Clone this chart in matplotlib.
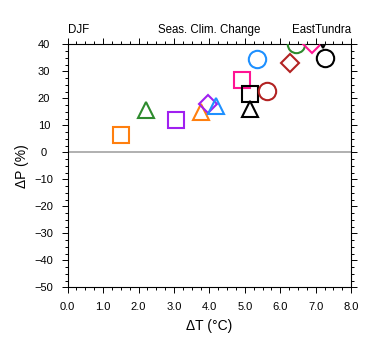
import numpy as np
import matplotlib
matplotlib.use('Agg')
import matplotlib.pyplot as plt
from matplotlib.ticker import MultipleLocator

plt.rcParams['font.family'] = ['Liberation Sans', 'DejaVu Sans']

# seasonal change per simulation: model (colour) and experiment (shape)
model = ['orange', 'orange', 'green', 'green', 'purple', 'purple',
         'blue', 'blue', 'pink', 'pink', 'black', 'black', 'black', 'black',
         'red', 'red']
expt = ['sq', 'tri', 'tri', 'circ', 'sq', 'dia',
        'tri', 'circ', 'sq', 'dia', 'sq', 'tri', 'circ', 'itri',
        'circ', 'dia']
dT = [1.51, 3.76, 2.21, 6.45, 3.06, 3.96,
      4.18, 5.33, 4.93, 6.89, 5.16, 5.14, 7.25, 7.21,
      5.62, 6.28]
dP = [6.6, 15.1, 15.8, 40.3, 12.1, 18.0,
      17.0, 34.5, 26.9, 40.2, 21.6, 16.1, 34.8, 41.5,
      22.8, 33.2]

colours = {'orange': '#ff7f0e', 'green': '#2e8b2e', 'purple': '#a020f0',
           'blue': '#1e90ff', 'pink': '#ff1493', 'black': 'black',
           'red': '#b22222'}
shapes = {'sq': ('s', 12), 'tri': ('^', 12), 'circ': ('o', 12.5),
          'dia': ('D', 9), 'itri': ('v', 12)}

fig = plt.figure(figsize=(3.8, 3.55), dpi=100)
ax = fig.add_axes([0.178, 0.1907, 0.746, 0.6843])

ax.axhline(0, color='#aaaaaa', lw=1.3, zorder=1)

for m, e, x, y in zip(model, expt, dT, dP):
    mk, ms = shapes[e]
    ax.plot(x, y, linestyle='none', marker=mk, ms=ms, mfc='none',
            mec=colours[m], mew=1.5, zorder=3)

ax.set_xlim(0, 8)
ax.set_ylim(-50, 40)
ax.xaxis.set_major_locator(MultipleLocator(1))
ax.xaxis.set_minor_locator(MultipleLocator(0.25))
ax.yaxis.set_major_locator(MultipleLocator(10))
ax.yaxis.set_minor_locator(MultipleLocator(2.5))
ax.set_xticklabels(['%.1f' % v for v in ax.get_xticks()])
ax.tick_params(which='both', direction='out', top=True, right=True,
               labeltop=False, labelright=False, labelsize=8, width=0.7)
ax.tick_params(axis='x', which='major', length=4.5, pad=6)
ax.tick_params(axis='y', which='major', length=4.5, pad=12.5)
ax.tick_params(which='minor', length=2.5)
for tl in ax.get_yticklabels():
    tl.set_horizontalalignment('center')
for sp in ax.spines.values():
    sp.set_linewidth(0.8)

ax.set_xlabel('\u0394T (\u00b0C)', fontsize=10, labelpad=5)
ax.set_ylabel('\u0394P (%)', fontsize=10, labelpad=4)

ax.text(0.0, 1.033, 'DJF', transform=ax.transAxes, fontsize=8.3,
        ha='left', va='bottom')
ax.text(0.5, 1.033, 'Seas. Clim. Change', transform=ax.transAxes,
        fontsize=8.3, ha='center', va='bottom')
ax.text(1.0, 1.033, 'EastTundra', transform=ax.transAxes, fontsize=8.3,
        ha='right', va='bottom')

fig.savefig('out.png', dpi=100)
